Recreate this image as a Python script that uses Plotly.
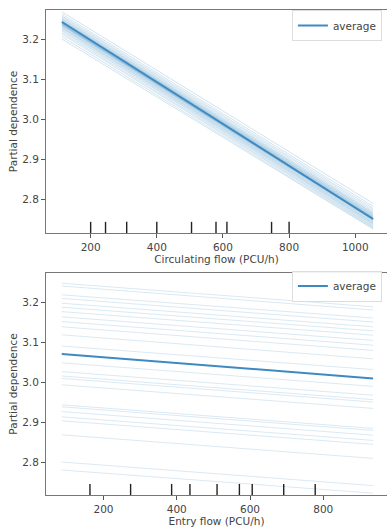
import plotly.graph_objects as go

# ---------------- data ----------------
# Top panel: Circulating flow
circ_x = [113, 1054]
circ_avg = [3.2425, 2.750]
circ_ice_start = [3.268, 3.262, 3.258, 3.255, 3.252, 3.250, 3.248, 3.246, 3.245, 3.244,
                  3.243, 3.242, 3.241, 3.240, 3.239, 3.238, 3.237, 3.236, 3.235, 3.234,
                  3.232, 3.230, 3.228, 3.226, 3.223, 3.220, 3.216, 3.212, 3.206, 3.200]
circ_ice_end = [2.789, 2.782, 2.777, 2.773, 2.769, 2.766, 2.764, 2.762, 2.760, 2.758,
                2.757, 2.755, 2.754, 2.753, 2.752, 2.751, 2.750, 2.749, 2.748, 2.747,
                2.745, 2.743, 2.741, 2.739, 2.737, 2.735, 2.732, 2.730, 2.727, 2.725]
circ_deciles = [200, 245, 309, 400, 505, 579, 612, 747, 800]
circ_ticks = [200, 400, 600, 800, 1000]

# Bottom panel: Entry flow
entry_x = [86, 936]
entry_avg = [3.070, 3.009]
entry_ice_start = [3.247, 3.240, 3.218, 3.209, 3.197, 3.187, 3.176, 3.163, 3.151, 3.138,
                   3.118, 3.090, 3.048, 3.026, 3.015, 3.009, 2.993, 2.943, 2.938, 2.926,
                   2.913, 2.903, 2.868, 2.800, 2.780]
entry_ice_end = [3.188, 3.180, 3.160, 3.150, 3.138, 3.128, 3.117, 3.104, 3.092, 3.079,
                 3.058, 3.031, 2.989, 2.967, 2.956, 2.950, 2.934, 2.884, 2.879, 2.867,
                 2.854, 2.844, 2.809, 2.741, 2.722]
entry_deciles = [163, 274, 386, 436, 510, 571, 606, 692, 778]
entry_ticks = [200, 400, 600, 800]

y_ticks = [2.8, 2.9, 3.0, 3.1, 3.2]

# ---------------- style ----------------
AVG_COLOR = "#3d8ac3"
ICE_COLOR = "rgba(31,119,180,0.30)"
ICE_COLOR2 = "rgba(31,119,180,0.24)"
FONT = "DejaVu Sans"
TXT = "#444444"

fig = go.Figure()

for s, e in zip(circ_ice_start, circ_ice_end):
    fig.add_trace(go.Scatter(x=circ_x, y=[s, e], mode="lines",
                             line=dict(color=ICE_COLOR, width=0.7),
                             showlegend=False, hoverinfo="skip", xaxis="x", yaxis="y"))
fig.add_trace(go.Scatter(x=circ_x, y=circ_avg, mode="lines", name="average",
                         line=dict(color=AVG_COLOR, width=2),
                         legend="legend", xaxis="x", yaxis="y"))

for s, e in zip(entry_ice_start, entry_ice_end):
    fig.add_trace(go.Scatter(x=entry_x, y=[s, e], mode="lines",
                             line=dict(color=ICE_COLOR2, width=0.7),
                             showlegend=False, hoverinfo="skip", xaxis="x2", yaxis="y2"))
fig.add_trace(go.Scatter(x=entry_x, y=entry_avg, mode="lines", name="average",
                         line=dict(color=AVG_COLOR, width=2),
                         legend="legend2", xaxis="x2", yaxis="y2"))

shapes = []
for d in circ_deciles:
    shapes.append(dict(type="line", xref="x", yref="y domain", x0=d, x1=d, y0=0, y1=0.05,
                       line=dict(color="#222222", width=1.4)))
for d in entry_deciles:
    shapes.append(dict(type="line", xref="x2", yref="y2 domain", x0=d, x1=d, y0=0, y1=0.05,
                       line=dict(color="#222222", width=1.4)))

axis_common = dict(showgrid=False, zeroline=False, showline=True, linecolor="#777777",
                   linewidth=1, mirror=True, ticks="outside", ticklen=4, tickwidth=1,
                   tickcolor="#555555", tickfont=dict(family=FONT, size=10.5, color=TXT),
                   automargin=False)

legend_common = dict(bgcolor="rgba(255,255,255,0.9)", bordercolor="#dddddd", borderwidth=1,
                     font=dict(family=FONT, size=10.5, color=TXT), itemwidth=30,
                     xanchor="right", yanchor="top", tracegroupgap=0)

fig.update_layout(
    width=387, height=527,
    margin=dict(l=46, r=0, t=10, b=32),
    paper_bgcolor="white", plot_bgcolor="white",
    font=dict(family=FONT, color=TXT),
    shapes=shapes,
    xaxis=dict(domain=[0, 1], range=[65, 1096], tickvals=circ_ticks, anchor="y",
               title=dict(text="Circulating flow (PCU/h)", standoff=4,
                          font=dict(family=FONT, size=10.5, color=TXT)), **axis_common),
    yaxis=dict(domain=[0.5402, 1.0], range=[2.715, 3.2725], tickvals=y_ticks,
               tickformat=".1f", anchor="x",
               title=dict(text="Partial dependence", standoff=2,
                          font=dict(family=FONT, size=10.5, color=TXT)), **axis_common),
    xaxis2=dict(domain=[0, 1], range=[43, 974], tickvals=entry_ticks, anchor="y2",
                title=dict(text="Entry flow (PCU/h)", standoff=4,
                           font=dict(family=FONT, size=10.5, color=TXT)), **axis_common),
    yaxis2=dict(domain=[0, 0.4577], range=[2.7175, 3.2725], tickvals=y_ticks,
                tickformat=".1f", anchor="x2",
                title=dict(text="Partial dependence", standoff=2,
                           font=dict(family=FONT, size=10.5, color=TXT)), **axis_common),
    legend=dict(x=0.985, y=1.0, xref="paper", yref="paper", **legend_common),
    legend2=dict(x=0.985, y=0.4577 + 0.005, xref="paper", yref="paper", **legend_common),
)

fig.write_html(
    "out.html",
    config={"displayModeBar": False},
    post_script="document.body.style.margin='0';document.body.style.overflow='hidden';",
)
